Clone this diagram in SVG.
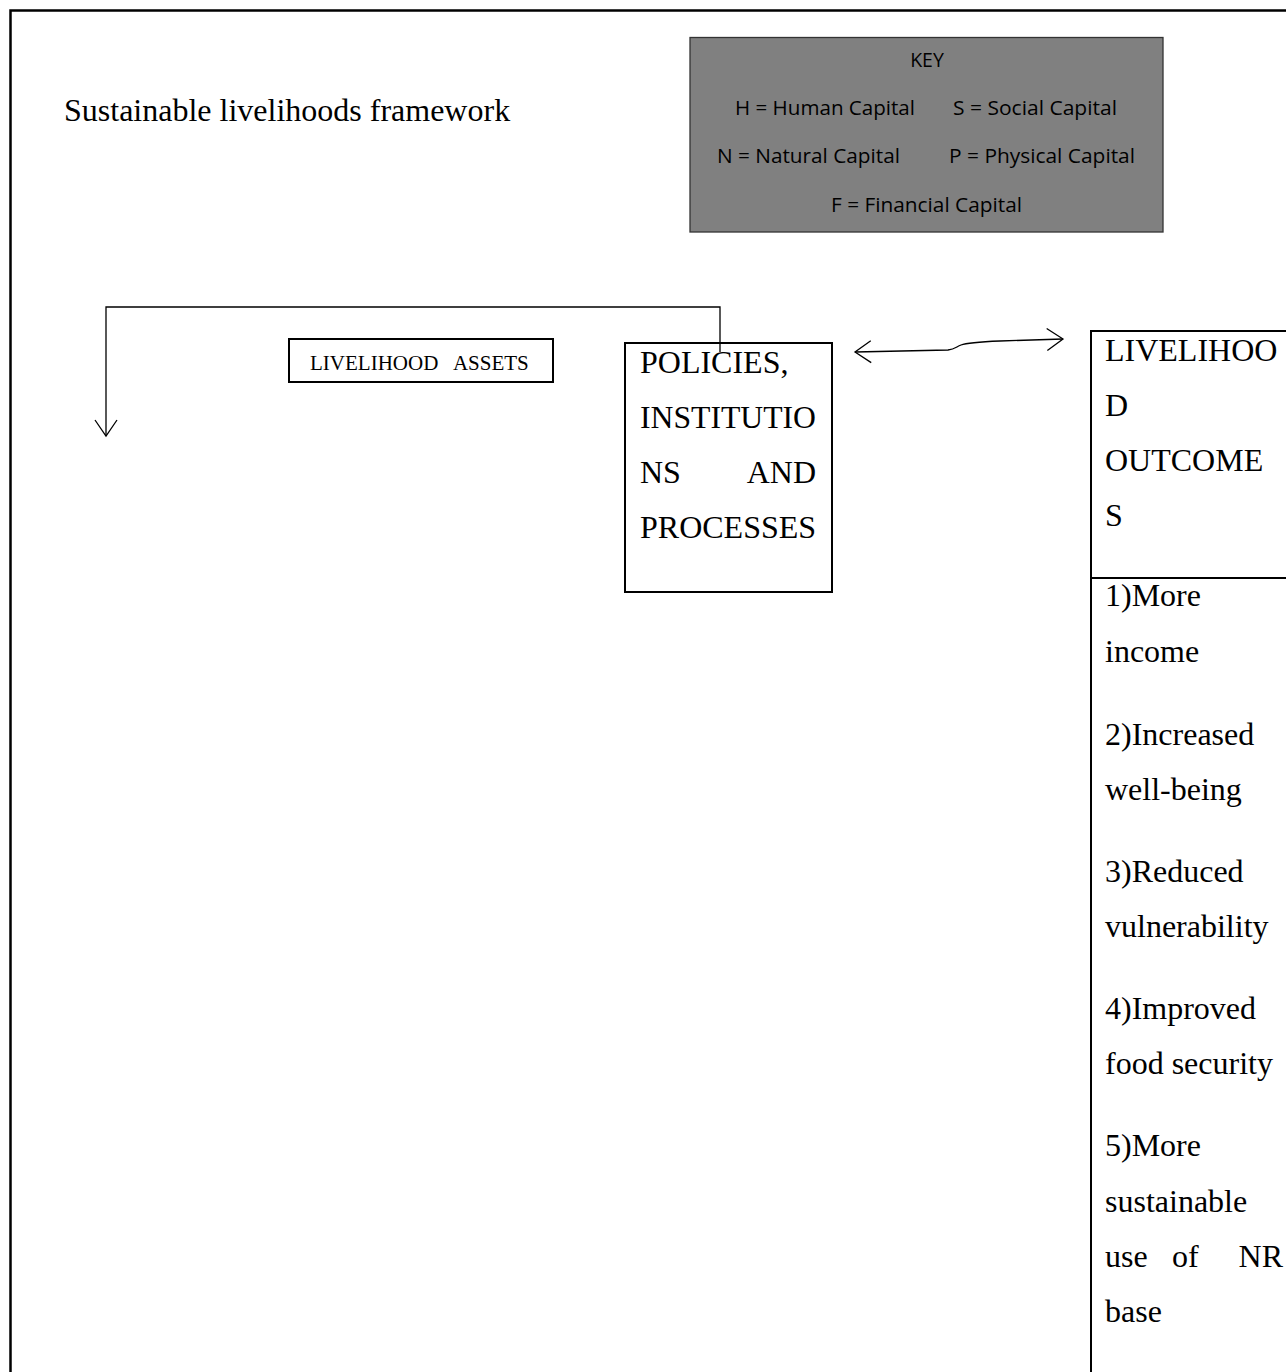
<svg xmlns="http://www.w3.org/2000/svg" width="1286" height="1372" viewBox="0 0 1286 1372">
<style>
.t{font-family:"Liberation Serif","Times New Roman",serif;fill:#000}
.big{font-size:32px}
.k{font-family:"Open Sans","Liberation Sans",sans-serif;font-size:19.5px;fill:#000;text-anchor:middle}
.box{fill:#fff;stroke:#000;stroke-width:2}
.ln{fill:none;stroke:#000;stroke-width:1.3}
</style>
<defs>
<marker id="oa" viewBox="0 0 20 24" refX="18" refY="12" markerWidth="20" markerHeight="24" markerUnits="userSpaceOnUse" orient="auto-start-reverse">
<path d="M2,1 L18,12 L2,23" fill="none" stroke="#000" stroke-width="1.3"/>
</marker>
</defs>
<rect width="1286" height="1372" fill="#fff"/>
<path d="M10.5,1372 V10.5 H1286" fill="none" stroke="#000" stroke-width="2.5"/>
<text class="t big" x="64" y="121">Sustainable livelihoods framework</text>
<g id="key">
<rect x="690" y="37.5" width="473" height="194.5" fill="#808080" stroke="#333" stroke-width="1.3"/>
<text class="k" x="927" y="67">KEY</text>
<text class="k" x="825" y="115" textLength="180" lengthAdjust="spacingAndGlyphs">H = Human Capital</text>
<text class="k" x="1035" y="115" textLength="164" lengthAdjust="spacingAndGlyphs">S = Social Capital</text>
<text class="k" x="808.5" y="163" textLength="183" lengthAdjust="spacingAndGlyphs">N = Natural Capital</text>
<text class="k" x="1042" y="163" textLength="186" lengthAdjust="spacingAndGlyphs">P = Physical Capital</text>
<text class="k" x="926.5" y="212" textLength="191" lengthAdjust="spacingAndGlyphs">F = Financial Capital</text>
</g>
<g id="assets">
<rect class="box" x="289" y="339" width="264" height="43" stroke-width="1.3"/>
<text class="t" x="310" y="370" font-size="21" xml:space="preserve" style="white-space:pre">LIVELIHOOD   ASSETS</text>
</g>
<g id="policies">
<rect class="box" x="625" y="343" width="207" height="249"/>
<text class="t big" x="640" y="373">POLICIES,</text>
<text class="t big" x="640" y="428" textLength="176" lengthAdjust="spacingAndGlyphs">INSTITUTIO</text>
<text class="t big" x="640" y="483">NS</text>
<text class="t big" x="816" y="483" text-anchor="end">AND</text>
<text class="t big" x="640" y="538">PROCESSES</text>
</g>
<g id="outcomes">
<rect class="box" x="1091" y="331" width="210" height="1060"/>
<line x1="1091" y1="578" x2="1286" y2="578" stroke="#000" stroke-width="2"/>
<text class="t big" x="1105" y="361">LIVELIHOO</text>
<text class="t big" x="1105" y="416">D</text>
<text class="t big" x="1105" y="471">OUTCOME</text>
<text class="t big" x="1105" y="526">S</text>
<text class="t big" x="1105" y="606">1)More</text>
<text class="t big" x="1105" y="662">income</text>
<text class="t big" x="1105" y="745">2)Increased</text>
<text class="t big" x="1105" y="800">well-being</text>
<text class="t big" x="1105" y="882">3)Reduced</text>
<text class="t big" x="1105" y="937">vulnerability</text>
<text class="t big" x="1105" y="1019">4)Improved</text>
<text class="t big" x="1105" y="1074">food security</text>
<text class="t big" x="1105" y="1156">5)More</text>
<text class="t big" x="1105" y="1212">sustainable</text>
<text class="t big" x="1105" y="1267">use</text>
<text class="t big" x="1172" y="1267">of</text>
<text class="t big" x="1283" y="1267" text-anchor="end">NR</text>
<text class="t big" x="1105" y="1322">base</text>
</g>
<g id="connectors">
<path class="ln" d="M720,352 V307 H106 V436" marker-end="url(#oa)"/>
<path class="ln" d="M855,352 L948,350 C955,349 956,347 961,345 C966,343 975,342 1000,341 L1063,339" marker-start="url(#oa)" marker-end="url(#oa)"/>
</g>
</svg>
